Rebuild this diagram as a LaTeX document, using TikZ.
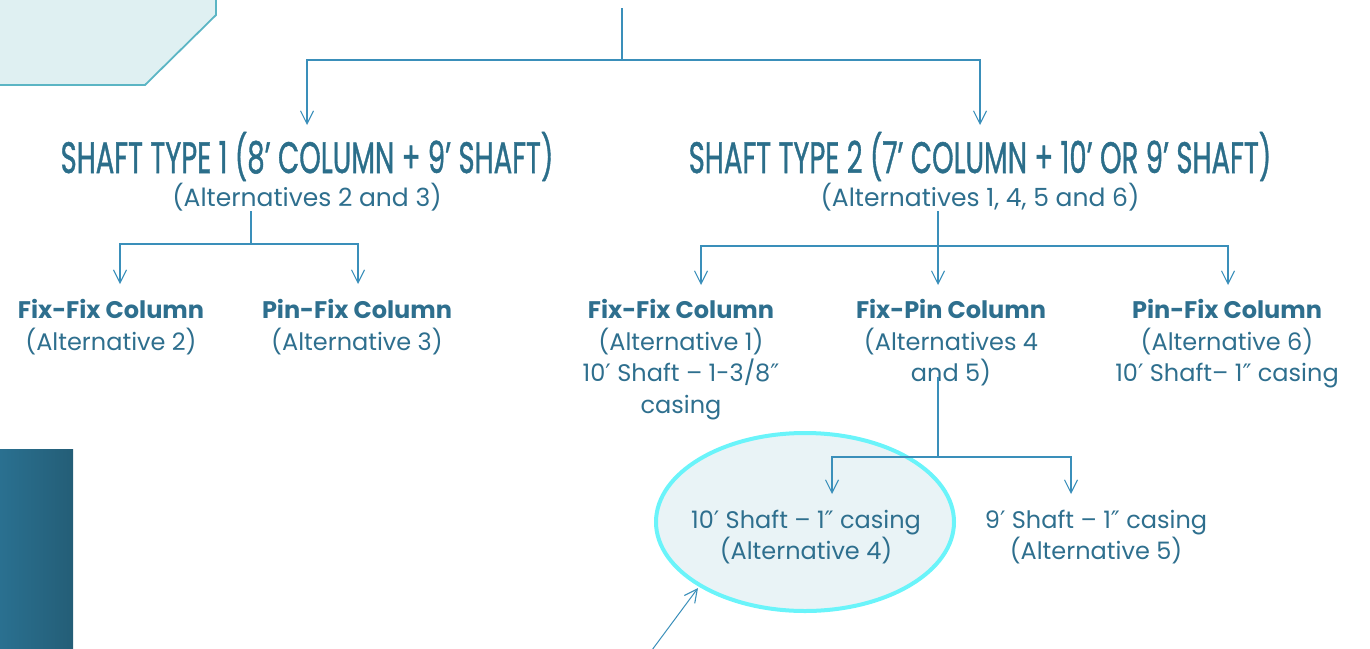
\documentclass[tikz,border=0pt]{standalone}
\usepackage{fontspec}
\setmainfont{Poppins}
\newfontfamily\headfont[FakeBold=1.2]{Poppins}
\newfontfamily\symfont{DejaVu Sans}
\usetikzlibrary{arrows.meta,shapes.geometric}
\definecolor{txtblue}{HTML}{2E6F8E}
\definecolor{headblue}{HTML}{2B6E8A}
\definecolor{linkblue}{HTML}{3A8FBA}
\definecolor{ringcyan}{HTML}{6AF4FA}
\definecolor{ringfill}{HTML}{E9F3F6}
\definecolor{panelfill}{HTML}{DFF0F2}
\definecolor{panelline}{HTML}{5BB5C4}
\definecolor{barleft}{HTML}{2A7090}
\definecolor{barright}{HTML}{245E77}
\tikzset{
  link/.style={draw=linkblue, line width=1.2pt},
  arr/.style={link, -{Straight Barb[length=13pt,width=13pt,line width=1.1pt]}},
  head/.style={text=headblue, font=\headfont\fontsize{44}{48}\selectfont, inner sep=0pt, anchor=base},
  sub/.style={text=txtblue, font=\fontsize{25}{31.7}\selectfont, inner sep=0pt, align=center},
  item/.style={text=txtblue, font=\fontsize{24}{31.7}\selectfont, inner sep=0pt, align=center},
}
\newcommand{\bt}[1]{{\bfseries #1}}
\newcommand{\hd}[1]{\scalebox{0.625}[1]{#1}}
\newcommand{\ft}{{\symfont ′}}
\newcommand{\inch}{{\symfont ″}}
\begin{document}
\begin{tikzpicture}[x=1pt,y=-1pt]
\useasboundingbox (0,0) rectangle (1370,648);
% corner panel and side bar
\filldraw[fill=panelfill, draw=panelline, line width=1.8pt]
  (-2,-2) -- (216,-2) -- (216,15) -- (145,85) -- (-2,85) -- cycle;
\shade[left color=barleft, right color=barright] (0,449) rectangle (73,650);

% headings
\node[head] (h1) at (307,173) {\hd{SHAFT TYPE 1 (8’ COLUMN + 9’ SHAFT)}};
\node[sub] (s1) at (307,197) {(Alternatives 2 and 3)};
\node[head] (h2) at (980,173) {\hd{SHAFT TYPE 2 (7’ COLUMN + 10’ OR 9’ SHAFT)}};
\node[sub] (s2) at (980,197) {(Alternatives 1, 4, 5 and 6)};

% type 1 branches
\node[item, anchor=north] (a2) at (111,299) {\bt{Fix-Fix Column}\\(Alternative 2)};
\node[item, anchor=north] (a3) at (357,299) {\bt{Pin-Fix Column}\\(Alternative 3)};

% type 2 branches
\node[item, anchor=north] (a1) at (681,299) {\bt{Fix-Fix Column}\\(Alternative 1)\\10\ft{} Shaft – 1-3/8\inch\\casing};
\node[item, anchor=north] (a45) at (951,299) {\bt{Fix-Pin Column}\\(Alternatives 4\\and 5)};
\node[item, anchor=north] (a6) at (1227,299) {\bt{Pin-Fix Column}\\(Alternative 6)\\10\ft{} Shaft– 1\inch{} casing};

% final split
\node[draw=ringcyan, line width=4pt, fill=ringfill, ellipse,
      minimum width=298pt, minimum height=178pt, inner sep=0pt] (ring) at (805,522) {};
\node[item] (a4) at (806,537) {10\ft{} Shaft – 1\inch{} casing\\(Alternative 4)};
\node[item] (a5) at (1096,537) {9\ft{} Shaft – 1\inch{} casing\\(Alternative 5)};

% junction points
\coordinate (top) at (622,8);
\coordinate (j0) at (622,60);
\coordinate (j0l) at (307,60);
\coordinate (j0r) at (980,60);
\coordinate (t1) at (307,125);
\coordinate (t2) at (980,125);
\coordinate (j1) at (251,244);
\coordinate (j1l) at (120,244);
\coordinate (j1r) at (358,244);
\coordinate (e2) at (120,284);
\coordinate (e3) at (358,284);
\coordinate (j2) at (938,246);
\coordinate (j2l) at (701,246);
\coordinate (j2r) at (1228,246);
\coordinate (e1) at (701,285);
\coordinate (e45) at (938,285);
\coordinate (e6) at (1228,285);
\coordinate (f0) at (938,377);
\coordinate (f) at (938,457);
\coordinate (fl) at (832,457);
\coordinate (fr) at (1071,457);
\coordinate (e4) at (832,494);
\coordinate (e5) at (1071,494);
\coordinate (ptr) at (652,650);
\coordinate (ptrtip) at (698,588);

% connectors
\draw[link] (top) -- (j0);
\draw[arr] (j0) -- (j0l) -- (t1);
\draw[arr] (j0) -- (j0r) -- (t2);
\draw[link] (s1.south -| j1) -- (j1);
\draw[arr] (j1) -- (j1l) -- (e2);
\draw[arr] (j1) -- (j1r) -- (e3);
\draw[link] (s2.south -| j2) -- (j2);
\draw[arr] (j2) -- (j2l) -- (e1);
\draw[arr] (j2) -- (e45);
\draw[arr] (j2) -- (j2r) -- (e6);
\draw[link] (f0) -- (f);
\draw[arr] (f) -- (fl) -- (e4);
\draw[arr] (f) -- (fr) -- (e5);
\draw[arr, line width=1pt] (ptr) -- (ptrtip);
\end{tikzpicture}
\end{document}
